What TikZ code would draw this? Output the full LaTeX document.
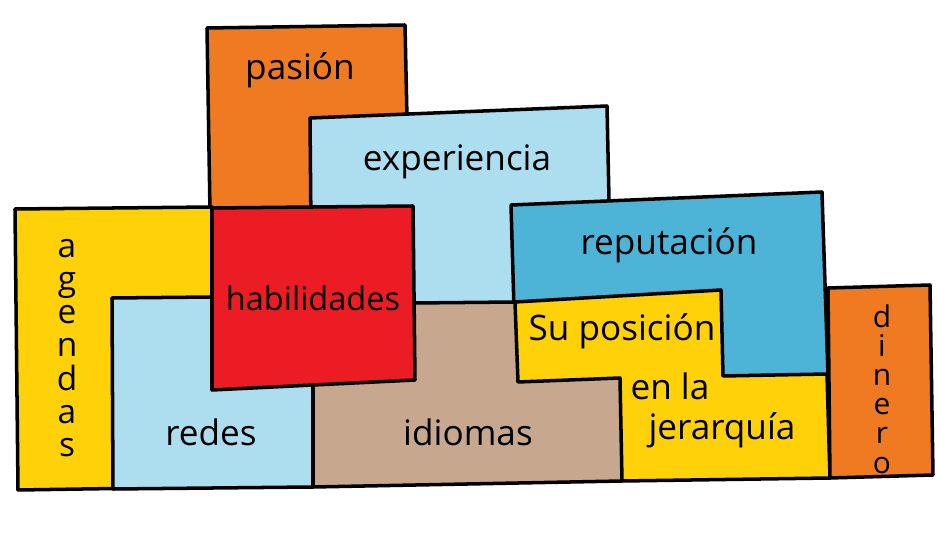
\documentclass[tikz,border=0pt]{standalone}
\usepackage{fontspec}
\setmainfont{Open Sans}
\usepackage{xcolor}
\definecolor{porange}{RGB}{240,122,33}
\definecolor{plight}{RGB}{173,222,240}
\definecolor{pred}{RGB}{236,28,36}
\definecolor{pyellow}{RGB}{254,209,8}
\definecolor{pblue}{RGB}{78,180,215}
\definecolor{ptan}{RGB}{199,168,142}
\tikzset{blk/.style={draw=black, line width=2pt, line join=round},
	lbl/.style={font=\fontsize{20}{24}\selectfont, inner sep=0pt}}

\begin{document}
\begin{tikzpicture}[x=0.02cm, y=-0.02cm]
	\useasboundingbox (0,0) rectangle (938,550);
	
	% top row
	\filldraw[blk, fill=porange] (207,28) -- (405,25) -- (409,212) -- (210,212) -- cycle;
	\filldraw[blk, fill=plight] (310,118) -- (607,106) -- (612,340) -- (312,340) -- cycle;
	\filldraw[blk, fill=pblue] (511,205) -- (822,192) -- (828,375) -- (516,378) -- cycle;
	
	% left side
	\filldraw[blk, fill=pyellow] (15,209) -- (212,207) -- (212,487) -- (18,490) -- cycle;
	\filldraw[blk, fill=plight] (112,298) -- (313,296) -- (313,487) -- (113,489) -- cycle;
	
	% bottom right
	\filldraw[blk, fill=ptan] (313,304) -- (515,302) -- (622,302) -- (622,481) -- (313,487) -- cycle;
	\filldraw[blk, fill=pred] (212,208) -- (413,206) -- (415,380) -- (212,390) -- cycle;
	\filldraw[blk, fill=pyellow] (515,302) -- (721,290) -- (723,376) -- (827,374)
		-- (830,478) -- (622,481) -- (620,378) -- (518,382) -- cycle;
	\filldraw[blk, fill=porange] (828,288) -- (930,285) -- (933,475) -- (830,478) -- cycle;
	
	\node[lbl] (pasion) at (300,70) {pasión};
	\node[lbl] (experiencia) at (457,162) {experiencia};
	\node[lbl] (reputacion) at (669,245) {reputación};
	\node[lbl, font=\fontsize{18.5}{22}\selectfont] (habilidades) at (313,298) {habilidades};
	\node[lbl] (redes) at (211,432) {redes};
	\node[lbl] (idiomas) at (468,432) {idiomas};
	\node[lbl] (posicion) at (622,331) {Su posición};
	\node[lbl] (enla) at (670,386) {en la};
	\node[lbl] (jerarquia) at (722,430) {jerarquía};
	
	\node[lbl, align=center, font=\fontsize{19}{18.9}\selectfont] (agendas) at (67,348) {a\\g\\e\\n\\d\\a\\s};
	\node[lbl, align=center, font=\fontsize{17}{16.6}\selectfont] (dinero) at (882,389) {d\\i\\n\\e\\r\\o};
	
\end{tikzpicture}
\end{document}
